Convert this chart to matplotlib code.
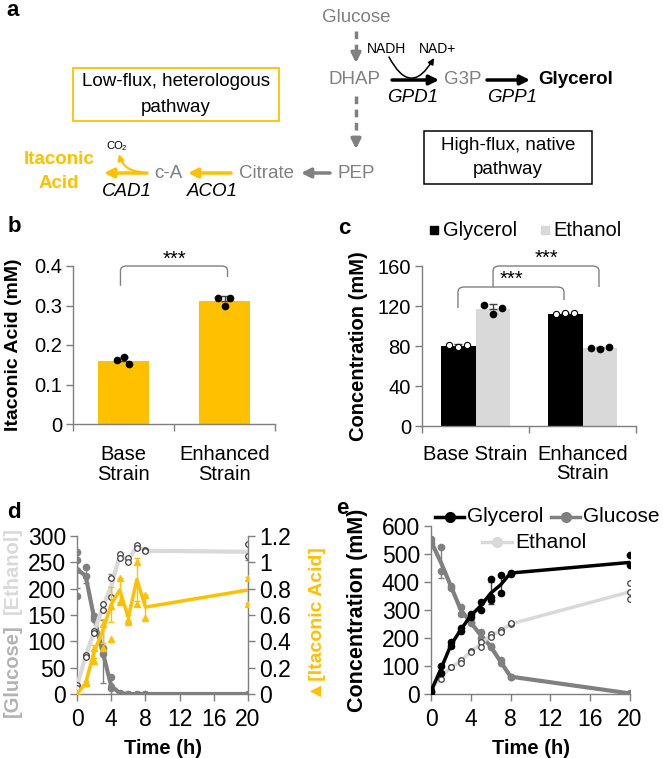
import matplotlib
matplotlib.use('Agg')
import matplotlib.pyplot as plt
import numpy as np
from matplotlib.path import Path
from matplotlib.patches import PathPatch, Rectangle
from matplotlib.ticker import FuncFormatter

plt.rcParams['font.family'] = ['Liberation Sans', 'DejaVu Sans']

# ---------------- data ----------------
strains_b = ['Base\nStrain', 'Enhanced\nStrain']
ita_mean = [0.160, 0.312]
ita_err = [0.009, 0.013]
ita_reps = [[0.163, 0.170, 0.153], [0.320, 0.298, 0.318]]

strains_c = ['Base Strain', 'Enhanced\nStrain']
gly_mean = [80, 112]
gly_err = [2, 1]
eth_mean = [117, 78]
eth_err = [5, 1]
gly_reps = [[81, 79, 81], [112, 113, 113]]
eth_reps = [[121, 112, 118], [78, 77, 79]]

time_h = [0, 1, 2, 3, 4, 5, 6, 7, 8, 20]

d_glucose = [236, 225, 145, 80, 15, 2, 0, 0, 0, 0]
d_glucose_err = [35, 15, 5, 60, 15, 0, 0, 0, 0, 0]
d_glucose_reps = [[270, 255, 186], [242, 225], [148, 142], [88, 76], [33, 12], [2], [0], [0], [0], [0]]
d_ethanol = [15, 72, 118, 165, 205, 262, 255, 280, 272, 270]
d_ethanol_err = [3, 4, 4, 6, 22, 4, 5, 3, 2, 16]
d_ethanol_reps = [[18, 12], [75, 70], [120, 116], [170, 160], [220, 185], [265, 258],
                  [258, 250], [282, 278], [273, 271], [285, 262]]
d_itaconic = [0.0, 0.08, 0.32, 0.48, 0.68, 0.79, 0.58, 0.87, 0.66, 0.79]
d_itaconic_err = [0.0, 0.02, 0.05, 0.09, 0.13, 0.09, 0.02, 0.16, 0.09, 0.10]
d_itaconic_reps = [[0.0], [0.09, 0.08], [0.35, 0.25], [0.53, 0.35], [0.67, 0.42], [0.88, 0.70],
                   [0.55, 0.56], [1.0, 0.68], [0.75, 0.58], [0.88, 0.68]]

e_glycerol = [10, 90, 175, 230, 280, 315, 360, 390, 432, 470]
e_glycerol_err = [0, 10, 8, 5, 5, 12, 40, 35, 2, 0]
e_glycerol_reps = [[12, 8], [100, 75], [185, 170], [235, 225], [285, 275], [330, 300],
                   [410, 345, 335], [425, 360], [433, 430], [495, 460]]
e_glucose = [545, 470, 385, 300, 255, 210, 170, 115, 62, 2]
e_glucose_err = [5, 55, 5, 12, 5, 10, 5, 5, 2, 0]
e_glucose_reps = [[555, 540], [525, 440], [385, 380], [310, 285], [258, 252], [220, 200],
                  [172, 168], [120, 110], [62, 60], [2, 1]]
e_ethanol = [15, 62, 95, 118, 152, 178, 210, 225, 250, 365]
e_ethanol_err = [0, 8, 2, 5, 2, 8, 5, 5, 2, 0]
e_ethanol_reps = [[15, 18], [70, 55], [95, 97], [120, 110], [152, 150], [185, 168],
                  [215, 205], [230, 220], [250, 252], [395, 365, 340]]

# ---------------- style ----------------
W, H = 663, 758
YEL = '#FFC000'
GRY = '#808080'
LGR = '#D9D9D9'
AXC = '#7F7F7F'
FS = 14.5      # bar panel tick text
FS2 = 16.5     # time-course tick text
LFS = 14
fig = plt.figure(figsize=(W / 100, H / 100), dpi=100)


def axes_px(l, t, r, b):
    return fig.add_axes([l / W, 1 - b / H, (r - l) / W, (b - t) / H])


def gfmt(v, p):
    return '%g' % round(v, 3)


def style_axes(ax, fs):
    for s in ['top', 'right']:
        ax.spines[s].set_visible(False)
    for s in ['left', 'bottom']:
        ax.spines[s].set_color(AXC)
        ax.spines[s].set_linewidth(1.0)
    ax.tick_params(axis='both', which='major', color=AXC, length=5, width=1,
                   labelsize=fs, pad=3)


def bracket(ax, x0, x1, ytop, yl, yr, rx, ry, color=GRY):
    verts = [(x0, yl), (x0, ytop - ry), (x0, ytop), (x0 + rx, ytop),
             (x1 - rx, ytop), (x1, ytop), (x1, ytop - ry), (x1, yr)]
    codes = [Path.MOVETO, Path.LINETO, Path.CURVE3, Path.CURVE3,
             Path.LINETO, Path.CURVE3, Path.CURVE3, Path.LINETO]
    ax.add_patch(PathPatch(Path(verts, codes), fill=False, edgecolor=color,
                           lw=1.0, clip_on=False))


# ---------------- panel b ----------------
axb = axes_px(73, 266, 275, 424)
style_axes(axb, FS)
xb = np.arange(len(strains_b)) + 0.5
axb.bar(xb, ita_mean, width=0.5, color=YEL, zorder=2)
axb.errorbar(xb, ita_mean, yerr=[[0, 0], ita_err], fmt='none', ecolor='#404040',
             elinewidth=1, capsize=3, capthick=1, zorder=3)
jit_b = [-0.06, 0.0, 0.05]
for i, reps in enumerate(ita_reps):
    axb.plot(xb[i] + np.array(jit_b[:len(reps)]), reps, 'o', color='black', ms=4.5, zorder=4)
axb.set_xlim(0, 2)
axb.set_ylim(0, 0.4)
axb.set_yticks([0, 0.1, 0.2, 0.3, 0.4])
axb.yaxis.set_major_formatter(FuncFormatter(gfmt))
axb.set_xticks([0, 1, 2])
axb.set_xticklabels([])
axb.set_xticks(xb, minor=True)
axb.set_xticklabels(strains_b, minor=True, fontsize=FS, linespacing=1.05)
axb.tick_params(axis='x', which='minor', length=0, pad=15)
axb.set_ylabel('Itaconic Acid (mM)', fontsize=LFS, fontweight='bold')
axb.yaxis.set_label_coords(-0.252, 0.5)
bracket(axb, 0.47, 1.53, 0.4, 0.35, 0.372, 0.06, 0.012)
axb.text(1.0, 0.418, '***', ha='center', va='center', fontsize=FS)

# ---------------- panel c ----------------
axc = axes_px(422, 266, 636, 426)
style_axes(axc, FS)
xc = np.arange(len(strains_c)) + 0.5
bw = 0.327
axc.bar(xc - bw / 2, gly_mean, width=bw, color='black', zorder=2)
axc.bar(xc + bw / 2, eth_mean, width=bw, color=LGR, zorder=2)
axc.errorbar(xc - bw / 2, gly_mean, yerr=[[0, 0], gly_err], fmt='none', ecolor='#404040',
             elinewidth=1, capsize=3, zorder=3)
axc.errorbar(xc + bw / 2, eth_mean, yerr=[[0, 0], eth_err], fmt='none', ecolor='#404040',
             elinewidth=1, capsize=3, zorder=3)
jit_c = [-0.085, 0.0, 0.085]
for i in range(2):
    axc.plot(xc[i] - bw / 2 + np.array(jit_c), gly_reps[i], 'o', mfc='white', mec='black',
             mew=0.8, ms=4.5, zorder=4)
    axc.plot(xc[i] + bw / 2 + np.array(jit_c), eth_reps[i], 'o', color='black', ms=4.5, zorder=4)
axc.set_xlim(0, 2)
axc.set_ylim(0, 160)
axc.set_yticks([0, 40, 80, 120, 160])
axc.set_xticks([0, 1, 2])
axc.set_xticklabels([])
axc.set_xticks(xc, minor=True)
axc.set_xticklabels(strains_c, minor=True, fontsize=FS, linespacing=1.0, va='top')
axc.tick_params(axis='x', which='minor', length=0, pad=14)
axc.set_ylabel('Concentration (mM)', fontsize=LFS + 0.5, fontweight='bold')
axc.yaxis.set_label_coords(-0.252, 0.5)
bracket(axc, 0.336, 1.327, 139, 118, 126, 0.06, 5)
axc.text(0.84, 147, '***', ha='center', va='center', fontsize=FS)
bracket(axc, 0.664, 1.654, 160, 139, 139, 0.06, 5)
axc.text(1.16, 168, '***', ha='center', va='center', fontsize=FS)

# ---------------- panel d ----------------
axd = axes_px(77, 536, 248, 694)
axd2 = axd.twinx()
for a in (axd, axd2):
    a.spines['top'].set_visible(False)
    for s in ['left', 'right', 'bottom']:
        a.spines[s].set_color(AXC)
        a.spines[s].set_linewidth(1.0)
    a.tick_params(axis='both', color=AXC, length=5, width=1, labelsize=FS2, pad=3)
axd.tick_params(axis='x', pad=5)
axd.spines['right'].set_visible(False)
axd2.spines['left'].set_visible(False)
axd2.spines['bottom'].set_visible(False)

axd.errorbar(time_h, d_glucose, yerr=d_glucose_err, fmt='none', ecolor=GRY, elinewidth=1, capsize=2.5, zorder=2)
axd.plot(time_h, d_glucose, '-o', color=GRY, lw=3, ms=4, zorder=3)
for t, reps in zip(time_h, d_glucose_reps):
    axd.plot([t] * len(reps), reps, 'o', color=GRY, ms=4.5, zorder=3)
axd.errorbar(time_h, d_ethanol, yerr=d_ethanol_err, fmt='none', ecolor=GRY, elinewidth=1, capsize=2.5, zorder=2)
axd.plot(time_h, d_ethanol, '-', color=LGR, lw=3, zorder=3)
for t, reps in zip(time_h, d_ethanol_reps):
    axd.plot([t] * len(reps), reps, 'o', mfc='white', mec='#404040', mew=0.9, ms=4, zorder=4)
axd.set_xlim(0, 20)
axd.set_ylim(0, 300)
axd.set_xticks([0, 4, 8, 12, 16, 20])
axd.set_yticks([0, 50, 100, 150, 200, 250, 300])
axd.set_xlabel('Time (h)', fontsize=LFS + 0.5, fontweight='bold', labelpad=6)

axd2.errorbar(time_h, d_itaconic, yerr=d_itaconic_err, fmt='none', ecolor=YEL, elinewidth=1, capsize=2.5, zorder=2)
axd2.plot(time_h, d_itaconic, '-', color=YEL, lw=2.5, zorder=3)
for t, reps in zip(time_h, d_itaconic_reps):
    axd2.plot([t] * len(reps), reps, '^', color=YEL, ms=5, zorder=4)
axd2.set_ylim(0, 1.2)
axd2.set_yticks([0, 0.2, 0.4, 0.6, 0.8, 1.0, 1.2])
axd2.yaxis.set_major_formatter(FuncFormatter(gfmt))

# ---------------- panel e ----------------
axe = axes_px(431, 526, 630, 694)
style_axes(axe, FS2)
axe.tick_params(axis='x', pad=5)
axe.errorbar(time_h, e_glucose, yerr=e_glucose_err, fmt='none', ecolor=GRY, elinewidth=1, capsize=2.5, zorder=2)
axe.plot(time_h, e_glucose, '-', color=GRY, lw=3, zorder=3)
for t, reps in zip(time_h, e_glucose_reps):
    axe.plot([t] * len(reps), reps, 'o', color=GRY, ms=4.5, zorder=3)
axe.errorbar(time_h, e_ethanol, yerr=e_ethanol_err, fmt='none', ecolor=GRY, elinewidth=1, capsize=2.5, zorder=2)
axe.plot(time_h, e_ethanol, '-', color=LGR, lw=2.5, zorder=3)
for t, reps in zip(time_h, e_ethanol_reps):
    axe.plot([t] * len(reps), reps, 'o', mfc='white', mec='#404040', mew=0.9, ms=4, zorder=4)
axe.errorbar(time_h, e_glycerol, yerr=e_glycerol_err, fmt='none', ecolor='#404040', elinewidth=1, capsize=2.5, zorder=2)
axe.plot(time_h, e_glycerol, '-', color='black', lw=2.5, zorder=5)
for t, reps in zip(time_h, e_glycerol_reps):
    axe.plot([t] * len(reps), reps, 'o', color='black', ms=4.5, zorder=5)
axe.set_xlim(0, 20)
axe.set_ylim(0, 600)
axe.set_xticks([0, 4, 8, 12, 16, 20])
axe.set_yticks([0, 100, 200, 300, 400, 500, 600])
axe.set_xlabel('Time (h)', fontsize=LFS + 0.5, fontweight='bold', labelpad=6)
axe.set_ylabel('Concentration (mM)', fontsize=LFS + 1.5, fontweight='bold')
axe.yaxis.set_label_coords(-0.317, 0.5)

# ---------------- overlay (panel a, labels, legends) ----------------
ov = fig.add_axes([0, 0, 1, 1])
ov.set_xlim(0, W)
ov.set_ylim(H, 0)
ov.axis('off')
ov.set_zorder(10)
ov.patch.set_visible(False)

for s, x, y in [('a', 6, 10), ('b', 8, 226), ('c', 338, 228), ('d', 7, 512), ('e', 336, 508)]:
    ov.text(x, y, s, fontsize=16, fontweight='bold', ha='left', va='center')

DFS = 13.5


def arrow(x0, y0, x1, y1, color, lw=2.5, ms=14, rad=0.0):
    ov.annotate('', xy=(x1, y1), xytext=(x0, y0),
                arrowprops=dict(arrowstyle='-|>', color=color, lw=lw, mutation_scale=ms,
                                shrinkA=0, shrinkB=0,
                                connectionstyle='arc3,rad=%g' % rad))


def dashed_arrow(x, y0, y1):
    ov.plot([x, x], [y0, y1 - 9], color=GRY, lw=2.5, dashes=(2.2, 1.6), solid_capstyle='butt')
    arrow(x, y1 - 10, x, y1, GRY, lw=2.5, ms=14)


ov.text(356, 17, 'Glucose', color=GRY, fontsize=DFS, ha='center', va='center')
dashed_arrow(356, 31, 63)
ov.text(355, 80, 'DHAP', color=GRY, fontsize=DFS, ha='center', va='center')
dashed_arrow(356, 96, 149)
ov.text(356, 173, 'PEP', color=GRY, fontsize=DFS, ha='center', va='center')
arrow(330, 173, 301, 173, GRY)
ov.text(267, 173, 'Citrate', color=GRY, fontsize=DFS, ha='center', va='center')
arrow(231, 173, 188, 173, YEL)
ov.text(168, 173, 'c-A', color=GRY, fontsize=DFS, ha='center', va='center')
arrow(147, 173, 104, 173, YEL)
ov.text(59, 160, 'Itaconic', color=YEL, fontsize=DFS, fontweight='bold', ha='center', va='center')
ov.text(59, 183, 'Acid', color=YEL, fontsize=DFS, fontweight='bold', ha='center', va='center')
ov.text(212, 192, 'ACO1', fontsize=DFS, style='italic', ha='center', va='center')
ov.text(127, 192, 'CAD1', fontsize=DFS, style='italic', ha='center', va='center')
arrow(141, 172, 119, 154, YEL, lw=1.5, ms=9, rad=-0.35)
ov.text(115, 146, 'CO', fontsize=8, ha='center', va='center')
ov.text(124, 149, '2', fontsize=5.5, ha='center', va='center')

arrow(392, 80, 439, 80, 'black')
ov.text(463, 80, 'G3P', color=GRY, fontsize=DFS, ha='center', va='center')
arrow(487, 80, 530, 80, 'black')
ov.text(538, 80, 'Glycerol', fontsize=DFS, fontweight='bold', ha='left', va='center')
ov.text(413, 97, 'GPD1', fontsize=DFS, style='italic', ha='center', va='center')
ov.text(512, 97, 'GPP1', fontsize=DFS, style='italic', ha='center', va='center')
ov.text(386, 49, 'NADH', fontsize=10, ha='center', va='center')
ov.text(437, 49, 'NAD+', fontsize=10, ha='center', va='center')
arrow(389, 57, 434, 58, 'black', lw=1.1, ms=9, rad=0.9)

ov.add_patch(Rectangle((73, 68), 206, 53, fill=False, edgecolor=YEL, lw=1.3))
ov.text(176, 82, 'Low-flux, heterologous', fontsize=DFS, ha='center', va='center')
ov.text(176, 107, 'pathway', fontsize=DFS, ha='center', va='center')
ov.add_patch(Rectangle((424, 131), 168, 53, fill=False, edgecolor='black', lw=1.1))
ov.text(508, 146, 'High-flux, native', fontsize=DFS, ha='center', va='center')
ov.text(508, 170, 'pathway', fontsize=DFS, ha='center', va='center')

# panel c legend
ov.add_patch(Rectangle((430, 226), 8, 8, color='black'))
ov.text(443, 230, 'Glycerol', fontsize=FS, ha='left', va='center')
ov.add_patch(Rectangle((541, 226), 8, 8, color=LGR))
ov.text(553, 230, 'Ethanol', fontsize=FS, ha='left', va='center')

# panel d side labels
ov.text(12, 671, '[Glucose]', color='#B3B3B3', fontsize=LFS + 0.5, fontweight='bold',
        rotation=90, ha='center', va='center')
ov.text(12, 571, '[Ethanol]', color=LGR, fontsize=LFS + 0.5, fontweight='bold',
        rotation=90, ha='center', va='center')
ov.text(317, 624, '\u25B2[Itaconic Acid]', color=YEL, fontsize=LFS, fontweight='bold',
        rotation=90, ha='center', va='center')

# panel e legend
for (x0, x1, y, col, lab) in [(435, 464, 517, 'black', 'Glycerol'),
                              (551, 580, 517, GRY, 'Glucose'),
                              (482, 512, 542, LGR, 'Ethanol')]:
    ov.plot([x0, x1], [y, y], color=col, lw=2.5)
    ov.plot([(x0 + x1) / 2], [y], 'o', color=col, ms=7)
    ov.text(x1 + 3, y, lab, fontsize=15, ha='left', va='center')

fig.savefig('out.png', dpi=100)
